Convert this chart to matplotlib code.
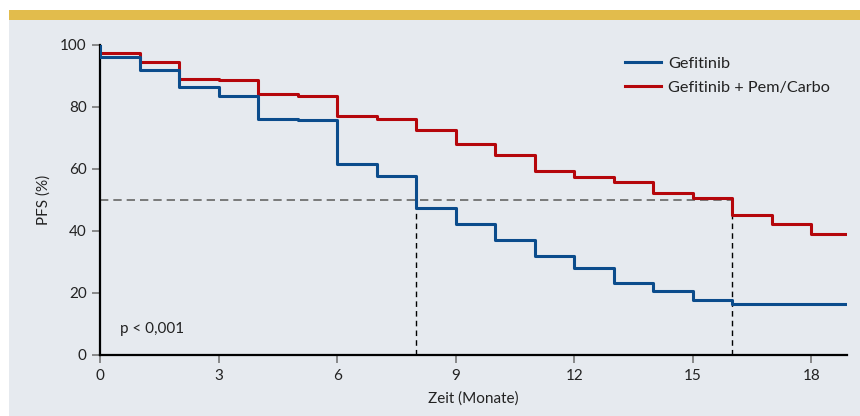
import matplotlib
matplotlib.use("Agg")
import matplotlib.pyplot as plt
from matplotlib.patches import Rectangle

plt.rcParams['font.family'] = ['Lato', 'DejaVu Sans']

# step times (months) and PFS (%)
months = [0, 1, 2, 3, 4, 5, 6, 7, 8, 9, 10, 11, 12, 13, 14, 15, 16, 17, 18, 18.9]
pfs_gef = [96, 92, 86.5, 83.6, 76.2, 75.7, 61.5, 57.6, 47.3, 42.3, 37.1, 31.9,
           28.1, 23.2, 20.5, 17.6, 16.4, 16.4, 16.4, 16.4]
pfs_combo = [97.5, 94.4, 89.1, 88.6, 84.1, 83.4, 77.2, 76.0, 72.6, 68.1, 64.4,
             59.5, 57.4, 55.7, 52.4, 50.8, 45.3, 42.4, 39.0, 39.0]
median_gef = 8
median_combo = 16
xticks = [0, 3, 6, 9, 12, 15, 18]
yticks = [0, 20, 40, 60, 80, 100]

blue = '#0b4c8c'
red = '#b5060b'
bg = '#e6eaef'

fig = plt.figure(figsize=(8.6, 4.16), dpi=100)
fig.patches.append(Rectangle((9/860, 0), 1, 1 - 20/416, transform=fig.transFigure,
                             facecolor=bg, edgecolor='none', zorder=-5))
fig.patches.append(Rectangle((9/860, 1 - 20/416), 1, 10/416, transform=fig.transFigure,
                             facecolor='#e2bc4c', edgecolor='none', zorder=-5))

ax = fig.add_axes([100/860, 1 - 355/416, 747/860, 310/416])
ax.set_facecolor('none')

# median lines
ax.plot([0, median_combo], [50, 50], color='#666666', lw=1.2, ls=(0, (5, 3)), zorder=1)
ax.plot([median_gef, median_gef], [0, 50], color='black', lw=1, ls=(0, (4, 3)), zorder=1)
ax.plot([median_combo, median_combo], [0, 50], color='black', lw=1, ls=(0, (4, 3)), zorder=1)

ax.step([0] + months, [100] + pfs_gef, where='post', color=blue, lw=2.2,
        label='Gefitinib', zorder=3)
ax.step(months, pfs_combo, where='post', color=red, lw=2.2,
        label='Gefitinib + Pem/Carbo', zorder=2)

ax.set_xlim(0, 18.9)
ax.set_ylim(0, 100)
ax.set_xticks(xticks)
ax.set_yticks(yticks)
ax.tick_params(axis='both', colors='#777777', labelcolor='#222222', labelsize=11,
               length=6, width=1.2)
ax.tick_params(axis='x', pad=4)
for s in ['top', 'right']:
    ax.spines[s].set_visible(False)
for s in ['left', 'bottom']:
    ax.spines[s].set_color('black')
    ax.spines[s].set_linewidth(1.6)

ax.set_xlabel('Zeit (Monate)', fontsize=11, color='#222222', labelpad=6)
ax.set_ylabel('PFS (%)', fontsize=11, color='#222222', labelpad=7)

ax.text(0.5, 7, 'p < 0,001', fontsize=11, color='#222222')

leg = ax.legend(loc='upper left', bbox_to_anchor=(0.683, 1.01), frameon=False,
                fontsize=11.7, handlelength=2.2, handletextpad=0.45, labelspacing=0.6)
for t in leg.get_texts():
    t.set_color('#222222')

fig.savefig('out.png', dpi=100)
